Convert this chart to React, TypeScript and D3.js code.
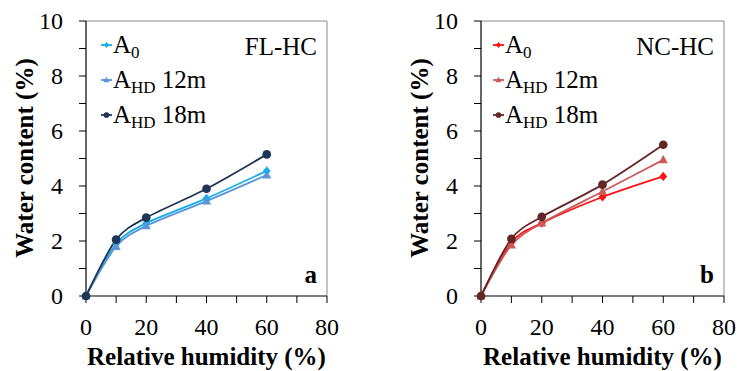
import React from "react";
import * as d3 from "d3";

const humidity = [0, 10, 20, 40, 60];

const flA0 = [0, 1.9, 2.65, 3.55, 4.55];
const flHd12 = [0, 1.8, 2.55, 3.45, 4.4];
const flHd18 = [0, 2.05, 2.85, 3.9, 5.15];

const ncA0 = [0, 1.95, 2.65, 3.6, 4.35];
const ncHd12 = [0, 1.85, 2.65, 3.8, 4.95];
const ncHd18 = [0, 2.08, 2.88, 4.05, 5.5];

const xTickLabels = [0, 20, 40, 60, 80];
const yTickLabels = [0, 2, 4, 6, 8, 10];

const seriesNames = ["12m", "18m"];

const FONT = "Liberation Serif, DejaVu Serif, serif";

type Series = { values: number[]; color: string; shape: "diamond" | "triangle" | "circle" };

function Marker({ x, y, shape, color, s }: { x: number; y: number; shape: string; color: string; s: number }) {
  if (shape === "circle") return <circle cx={x} cy={y} r={s * 0.95} fill={color} />;
  if (shape === "diamond")
    return <path d={`M${x},${y - s}L${x + s * 0.85},${y}L${x},${y + s}L${x - s * 0.85},${y}Z`} fill={color} />;
  return <path d={`M${x},${y - s * 1.05}L${x + s},${y + s * 0.75}L${x - s},${y + s * 0.75}Z`} fill={color} />;
}

function Panel({
  left,
  right,
  series,
  tag,
  letter,
  legendX,
  titleX,
}: {
  left: number;
  right: number;
  series: Series[];
  tag: string;
  letter: string;
  legendX: number;
  titleX: number;
}) {
  const top = 21;
  const bottom = 296;
  const x = d3.scaleLinear().domain([0, 80]).range([left, right]);
  const y = d3.scaleLinear().domain([0, 10]).range([bottom, top]);
  const line = d3
    .line<number>()
    .x((_, i) => x(humidity[i]))
    .y((d) => y(d))
    .curve(d3.curveCardinal.tension(0.15));
  const xMinor = d3.range(0, 81, 10);
  const yMinor = d3.range(0, 11, 1);
  const legendRows = [53, 88, 123];
  const labels = ["0", "HD", "HD"];
  const ts = { fontFamily: FONT };
  return (
    <g style={ts}>
      <line x1={left} x2={right} y1={top} y2={top} stroke="#8a8a8a" strokeWidth={1} />
      <line x1={right} x2={right} y1={top} y2={bottom} stroke="#8a8a8a" strokeWidth={1} />
      <line x1={left} x2={left} y1={top} y2={bottom} stroke="#000" strokeWidth={1.2} />
      <line x1={left} x2={right} y1={bottom} y2={bottom} stroke="#000" strokeWidth={1.2} />
      {yMinor.map((t) => (
        <line key={"y" + t} x1={left - 7} x2={left} y1={y(t)} y2={y(t)} stroke="#000" strokeWidth={1} />
      ))}
      {xMinor.map((t) => (
        <line key={"x" + t} x1={x(t)} x2={x(t)} y1={bottom} y2={bottom + 7} stroke="#000" strokeWidth={1} />
      ))}
      {yTickLabels.map((t) => (
        <text key={"yl" + t} x={left - 23} y={y(t) + 8} textAnchor="end" fontSize={24} style={ts}>
          {t}
        </text>
      ))}
      {xTickLabels.map((t) => (
        <text key={"xl" + t} x={x(t)} y={335} textAnchor="middle" fontSize={24} style={ts}>
          {t}
        </text>
      ))}
      <text x={(left + right) / 2} y={365} textAnchor="middle" fontSize={25} fontWeight="bold" style={ts}>
        Relative humidity (%)
      </text>
      <text
        transform={`translate(${titleX},${158}) rotate(-90)`}
        textAnchor="middle"
        fontSize={25}
        fontWeight="bold"
        style={ts}
      >
        Water content (%)
      </text>
      {series.map((s, i) => (
        <path key={"l" + i} d={line(s.values) || ""} fill="none" stroke={s.color} strokeWidth={1.8} />
      ))}
      {series.map((s, i) =>
        s.values.map((v, j) => (
          <Marker key={"m" + i + j} x={x(humidity[j])} y={y(v)} shape={s.shape} color={s.color} s={4.6} />
        ))
      )}
      {series.map((s, i) => (
        <g key={"lg" + i}>
          <line
            x1={legendX}
            x2={legendX + 11}
            y1={legendRows[i] - 8}
            y2={legendRows[i] - 8}
            stroke={s.color}
            strokeWidth={1.8}
          />
          <Marker x={legendX + 5.5} y={legendRows[i] - 8} shape={s.shape} color={s.color} s={3} />
          <text x={legendX + 12} y={legendRows[i]} fontSize={25} style={ts}>
            A
            <tspan fontSize={17} dy={5}>
              {labels[i]}
            </tspan>
            {i > 0 ? (
              <tspan dy={-5} dx={6}>
                {seriesNames[i - 1]}
              </tspan>
            ) : null}
          </text>
        </g>
      ))}
      <text x={right - 10} y={55} textAnchor="end" fontSize={25} style={ts}>
        {tag}
      </text>
      <text x={right - 10} y={283} textAnchor="end" fontSize={25} fontWeight="bold" style={ts}>
        {letter}
      </text>
    </g>
  );
}

export default function App() {
  const seriesA: Series[] = [
    { values: flA0, color: "#12aee8", shape: "diamond" },
    { values: flHd12, color: "#5b95d8", shape: "triangle" },
    { values: flHd18, color: "#1e3556", shape: "circle" },
  ];
  const seriesB: Series[] = [
    { values: ncA0, color: "#ff1010", shape: "diamond" },
    { values: ncHd12, color: "#cc5a5a", shape: "triangle" },
    { values: ncHd18, color: "#632626", shape: "circle" },
  ];
  return (
    <svg width={740} height={371} style={{ position: "absolute", left: 0, top: 0, background: "#fff" }}>
      <rect width={740} height={371} fill="#fff" />
      <Panel left={86} right={327} series={seriesA} tag="FL-HC" letter="a" legendX={101} titleX={33} />
      <Panel left={481} right={724} series={seriesB} tag="NC-HC" letter="b" legendX={493} titleX={428} />
    </svg>
  );
}
